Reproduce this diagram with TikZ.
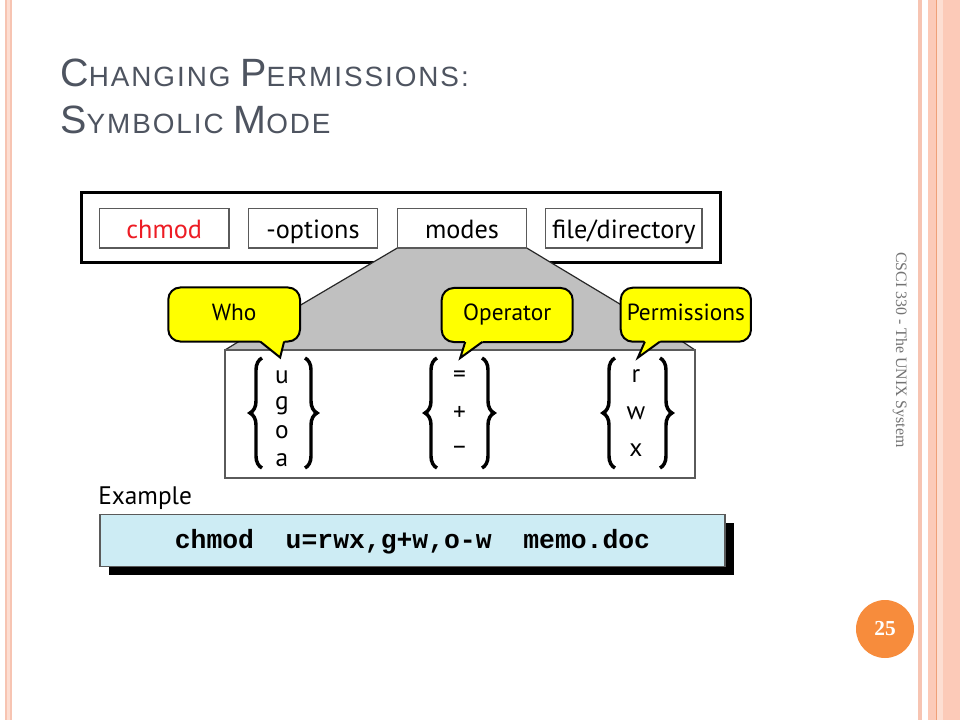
\documentclass[tikz,border=0pt]{standalone}
\usepackage{fontspec}
\setmainfont{Liberation Sans}
\newfontfamily\titlefont[LetterSpace=7]{Liberation Sans}
\newfontfamily\diag{PT Sans}
\newfontfamily\monob{Liberation Mono}
\newfontfamily\serifr{Liberation Serif}
\usetikzlibrary{decorations.pathreplacing,calc}
\definecolor{titlec}{RGB}{78,84,96}
\definecolor{pinkl}{RGB}{253,222,210}
\definecolor{pinkm}{RGB}{252,202,184}
\definecolor{pinkd}{RGB}{247,196,178}
\definecolor{orangeline}{RGB}{240,160,120}
\definecolor{boxgrey}{RGB}{90,90,90}
\definecolor{trapgrey}{RGB}{192,192,192}
\definecolor{edgegrey}{RGB}{40,40,40}
\definecolor{cmdred}{RGB}{237,28,36}
\definecolor{callyellow}{RGB}{255,255,0}
\definecolor{exblue}{RGB}{205,236,244}
\definecolor{pageorange}{RGB}{247,140,60}
\definecolor{sidegrey}{RGB}{115,115,115}
\newcommand{\tbig}[1]{{\fontsize{29.6}{32}\selectfont #1}}
\newcommand{\tsm}[1]{{\fontsize{20.9}{24}\selectfont #1}}
\pgfdeclarelayer{bg}
\pgfdeclarelayer{mid}
\pgfsetlayers{bg,mid,main}
\tikzset{
  outerbox/.style={draw=black, line width=2.25pt, fill=white, minimum width=478.9pt, minimum height=52.5pt, inner sep=0pt, outer sep=0pt},
  cmdbox/.style={draw=boxgrey, line width=1.1pt, fill=white, minimum height=29.6pt, inner sep=0pt, outer sep=0pt, text height=15pt, text depth=0pt, font=\diag\fontsize{19.7}{22}\selectfont},
  lowbox/.style={draw=boxgrey, line width=1.1pt, fill=white, minimum width=352.5pt, minimum height=96pt, inner sep=0pt, outer sep=0pt},
  trapedge/.style={draw=edgegrey, line width=0.9pt, line join=miter},
  callbody/.style={draw=black, line width=1.5pt, fill=callyellow, rounded corners=9pt, minimum height=40.5pt, inner sep=0pt, outer sep=0pt, text height=8.5pt, text depth=0pt, font=\diag\fontsize{17.5}{19}\selectfont},
  calltail/.style={draw=black, line width=1.5pt, line join=miter},
  bracestyle/.style={decorate, decoration={brace, amplitude=9pt}, line width=2.6pt},
  letter/.style={inner sep=0pt, font=\diag\fontsize{19}{21}\selectfont},
  exbox/.style={draw=boxgrey, line width=0.8pt, fill=exblue, minimum width=468.75pt, minimum height=39pt, inner sep=0pt, outer sep=0pt, text height=11.25pt, text depth=0pt, font=\monob\bfseries\fontsize{19.8}{22}\selectfont},
  shadowbox/.style={fill=black, minimum width=468.75pt, minimum height=39pt, inner sep=0pt, outer sep=0pt}
}
\begin{document}
\begin{tikzpicture}[x=0.75pt,y=-0.75pt]
\useasboundingbox (0,0) rectangle (960,720);
\begin{pgfonlayer}{bg}
\fill[white] (0,0) rectangle (960,720);
% left border
\fill[pinkl] (5,0) rectangle (12,720);
\fill[pinkd] (5,0) rectangle (7.3,720);
\fill[pinkd] (9.5,0) rectangle (12,720);
% right border
\fill[pinkd] (918,0) rectangle (922,720);
\fill[pinkm] (928,0) rectangle (960,720);
\fill[pinkl] (937,0) rectangle (943,720);
\draw[orangeline, line width=0.9pt] (936.5,0) -- (936.5,720);
% outer command box
\node[outerbox] (cmdline) at (400.75,228) {};
\end{pgfonlayer}

% title
\node[anchor=base west, inner sep=0pt, text=titlec, font=\titlefont] (title1) at (60,86.7)
  {\tbig{C}\tsm{HANGING }\tbig{P}\tsm{ERMISSIONS:}};
\node[anchor=base west, inner sep=0pt, text=titlec, font=\titlefont] (title2) at (60,134)
  {\tbig{S}\tsm{YMBOLIC }\tbig{M}\tsm{ODE}};

% command parts
\node[cmdbox, minimum width=97.1pt, text=cmdred] (chmod) at (164.25,228.25) {chmod};
\node[cmdbox, minimum width=97pt] (options) at (313,228.25) {-options};
\node[cmdbox, minimum width=97pt] (modes) at (462,228.25) {modes};
\node[cmdbox, minimum width=117.2pt] (file) at (623.85,228.25) {file/directory};

% lower box
\node[lowbox] (sel) at (460,414) {};

% grey expansion
\begin{pgfonlayer}{mid}
\fill[trapgrey] (modes.south west) -- (modes.south east)
  -- ($(sel.north east)+(-12,-8)$) -- (sel.north east) -- (sel.north west)
  -- ($(sel.north west)+(13,-8)$) -- cycle;
\draw[trapedge] (modes.south west) -- ($(sel.north west)+(13,-8)$) -- (sel.north west);
\draw[trapedge] (modes.south east) -- ($(sel.north east)+(-12,-8)$) -- (sel.north east);
\end{pgfonlayer}

% braces and letters
\draw[bracestyle] (262,468) -- (262,358);
\draw[bracestyle] (305,358) -- (305,468);
\node[letter, anchor=base] (lu) at (282,383) {u};
\node[letter, anchor=base] (lg) at (282,409) {g};
\node[letter, anchor=base] (lo) at (282,438.5) {o};
\node[letter, anchor=base] (la) at (282,466.5) {a};

\draw[bracestyle] (437,468) -- (437,358);
\draw[bracestyle] (482,358) -- (482,468);
\node[letter] (opeq) at (459.5,376.7) {=};
\node[letter] (opplus) at (459.5,413.3) {+};
\node[letter] (opminus) at (459.5,450) {–};

\draw[bracestyle] (615,468) -- (615,358);
\draw[bracestyle] (660,358) -- (660,468);
\node[letter, anchor=base] (pr) at (636,382.7) {r};
\node[letter, anchor=base] (pw) at (636,419.3) {w};
\node[letter, anchor=base] (px) at (636,456) {x};

% callouts
\node[callbody, minimum width=98.8pt] (who) at (234.15,314.5) {Who};
\fill[callyellow] ($(who.south)+(25,-2.5)$) -- ($(who.south)+(26,0)$) -- ($(who.south)+(46,16)$) -- ($(who.south)+(50,0)$) -- ($(who.south)+(51,-2.5)$) -- cycle;
\draw[calltail] ($(who.south)+(26,0)$) -- ($(who.south)+(46,16)$) -- ($(who.south)+(50,0)$);

\node[callbody, minimum width=98.25pt] (oper) at (507.2,315) {Operator};
\fill[callyellow] ($(oper.south)+(-43,-2.5)$) -- ($(oper.south)+(-42,0)$) -- ($(oper.south)+(-47,16)$) -- ($(oper.south)+(-25,0)$) -- ($(oper.south)+(-24,-2.5)$) -- cycle;
\draw[calltail] ($(oper.south)+(-42,0)$) -- ($(oper.south)+(-47,16)$) -- ($(oper.south)+(-25,0)$);

\node[callbody, minimum width=97.7pt] (perm) at (685.85,314.7) {Permissions};
\fill[callyellow] ($(perm.south)+(-42,-2.5)$) -- ($(perm.south)+(-41,0)$) -- ($(perm.south)+(-48,16)$) -- ($(perm.south)+(-26,0)$) -- ($(perm.south)+(-25,-2.5)$) -- cycle;
\draw[calltail] ($(perm.south)+(-41,0)$) -- ($(perm.south)+(-48,16)$) -- ($(perm.south)+(-26,0)$);

% example
\node[anchor=base west, inner sep=0pt, font=\diag\fontsize{19}{21}\selectfont] (exlabel) at (98,504) {Example};
\node[shadowbox] (exshadow) at (421,548.5) {};
\node[exbox] (example) at (412.5,540.5) {chmod\ \ u=rwx,g+w,o-w\ \ memo.doc};

% side text and page number
\node[rotate=-90, inner sep=0pt, text=sidegrey, font=\serifr\fontsize{11.9}{13}\selectfont] (side) at (900,350) {CSCI 330 - The UNIX System};
\node[circle, fill=pageorange, minimum size=43.5pt, inner sep=0pt, text=white, font=\serifr\bfseries\fontsize{16}{17}\selectfont] (pagenum) at (885,629) {25};
\end{tikzpicture}
\end{document}
